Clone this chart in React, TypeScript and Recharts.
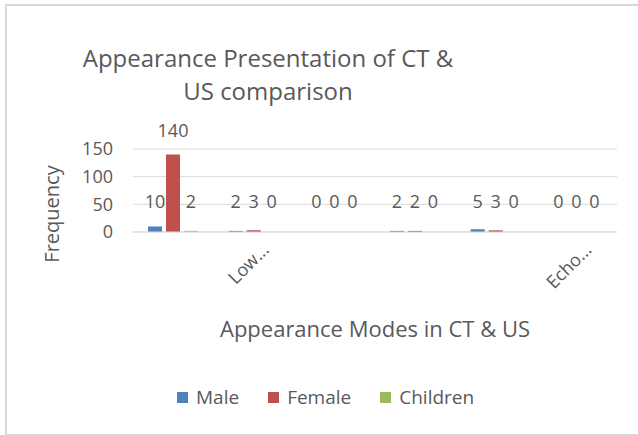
import { BarChart, Bar, XAxis, YAxis, CartesianGrid, LabelList } from 'recharts';

const categories = ['Mode 1', 'Mode 2', 'Mode 3', 'Mode 4', 'Mode 5', 'Mode 6'];
const tickLabels = ['', 'Low...', '', '', '', 'Echo...'];
const male = [10, 2, 0, 2, 5, 0];
const female = [140, 3, 0, 2, 3, 0];
const children = [2, 0, 0, 0, 0, 0];
const yTicks = [0, 50, 100, 150];

const series = [
  { key: 'male', name: 'Male', color: '#4f81bd' },
  { key: 'female', name: 'Female', color: '#c0504d' },
  { key: 'children', name: 'Children', color: '#9bbb59' },
];

const data = categories.map((c, i) => ({
  category: c,
  male: male[i],
  female: female[i],
  children: children[i],
}));

const FONT = '"Open Sans", sans-serif';
const TEXT = '#595959';

const DataLabel = (props: any) => {
  const { x, y, width, value } = props;
  const ty = Math.min(y, 226) - 18;
  return (
    <text x={x + width / 2} y={ty} textAnchor="middle" fill={TEXT} fontSize={18} fontFamily={FONT}>
      {value}
    </text>
  );
};

const XTick = (props: any) => {
  const { x, y, payload } = props;
  const label = tickLabels[payload.index];
  if (!label) return null;
  const tx = x + 16;
  const ty = y + 11;
  return (
    <text x={tx} y={ty} transform={`rotate(-45 ${tx} ${ty})`} textAnchor="end" fill={TEXT} fontSize={18} fontFamily={FONT}>
      {label}
    </text>
  );
};

const YTitle = () => (
  <text x={59} y={214} transform="rotate(-90 59 214)" textAnchor="middle" fill={TEXT} fontSize={20} fontFamily={FONT}>
    Frequency
  </text>
);

export default function App() {
  return (
    <div style={{ position: 'absolute', left: 0, top: 0, width: 638, height: 435, background: '#fff', fontFamily: FONT }}>
      <div style={{ position: 'absolute', left: 5, top: 4, width: 640, height: 428, borderLeft: '2px solid #d9d9d9', borderTop: '2px solid #d9d9d9', borderBottom: '2px solid #d9d9d9' }} />
      <div style={{ position: 'absolute', left: 68, width: 400, top: 41, textAlign: 'center', color: TEXT, fontSize: 24, lineHeight: '33px', whiteSpace: 'nowrap' }}>
        Appearance Presentation of CT &amp;<br />US comparison
      </div>
      <BarChart
        width={638}
        height={435}
        data={data}
        margin={{ top: 149, right: 21, bottom: 173, left: 93 }}
        barCategoryGap={15}
        barGap={4}
        style={{ position: 'absolute', left: 0, top: 0 }}
      >
        <CartesianGrid vertical={false} stroke="#d9d9d9" />
        <XAxis
          dataKey="category"
          height={30}
          interval={0}
          tick={<XTick />}
          tickLine={false}
          axisLine={{ stroke: '#d9d9d9' }}
          label={{ value: 'Appearance Modes in CT & US', position: 'bottom', offset: 59, fill: TEXT, fontSize: 22, fontFamily: FONT }}
        />
        <YAxis
          width={40}
          domain={[0, 150]}
          ticks={yTicks}
          tickLine={false}
          axisLine={false}
          tick={{ fill: TEXT, fontSize: 18, fontFamily: FONT, dx: -12 }}
          label={<YTitle />}
        />
        {series.map((s) => (
          <Bar key={s.key} dataKey={s.key} name={s.name} fill={s.color} minPointSize={0.01} isAnimationActive={false}>
            <LabelList dataKey={s.key} content={<DataLabel />} />
          </Bar>
        ))}
      </BarChart>
      <div style={{ position: 'absolute', left: 177, top: 384, display: 'flex', alignItems: 'center', color: TEXT, fontSize: 19 }}>
        {series.map((s) => (
          <div key={s.key} style={{ display: 'flex', alignItems: 'center', marginRight: 29 }}>
            <span style={{ display: 'inline-block', width: 11, height: 11, background: s.color, marginRight: 8 }} />
            <span>{s.name}</span>
          </div>
        ))}
      </div>
    </div>
  );
}
